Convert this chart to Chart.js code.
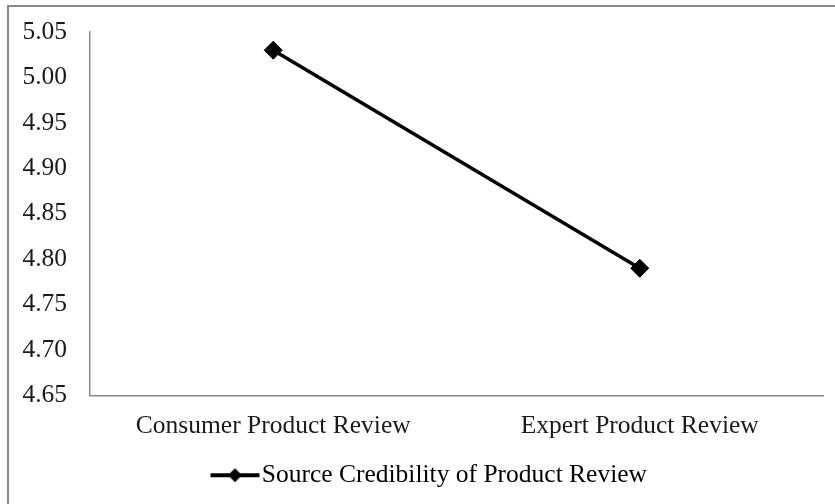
<!DOCTYPE html>
<html>
<head>
<meta charset="utf-8">
<script src="https://cdn.jsdelivr.net/npm/chart.js@4"></script>
<style>
  html, body { margin: 0; padding: 0; background: #fff; }
  #wrap { position: relative; width: 835px; height: 504px; overflow: hidden; }
  #frame { position: absolute; left: 7px; top: 5px; width: 900px; height: 600px; border: 2px solid #8a8a8a; }
  #chartCanvas { position: absolute; left: 0; top: 0; }
</style>
</head>
<body>
<div id="wrap">
  <div id="frame"></div>
  <canvas id="chartCanvas" width="835" height="504"></canvas>
</div>
<script>
// --- data ---
const categories = ["Consumer Product Review", "Expert Product Review"];
const seriesName = "Source Credibility of Product Review";
const credibility = [5.03, 4.79];
const yTicks = [4.65, 4.70, 4.75, 4.80, 4.85, 4.90, 4.95, 5.00, 5.05];

const canvas = document.getElementById("chartCanvas");
const FONT = "'Liberation Serif', 'Times New Roman', serif";
const SIZE = 25.5;
const INK = "#1a1a1a";

// legend symbol: short line with a diamond on it (left part left blank to shift it)
function legendSymbol() {
  const c = document.createElement("canvas");
  c.width = 100; c.height = 20;
  const g = c.getContext("2d");
  g.strokeStyle = "#000";
  g.lineWidth = 4;
  g.beginPath(); g.moveTo(40, 10); g.lineTo(89, 10); g.stroke();
  g.fillStyle = "#000";
  g.beginPath(); g.moveTo(64.5, 3); g.lineTo(71.5, 10); g.lineTo(64.5, 17); g.lineTo(57.5, 10); g.closePath(); g.fill();
  return c;
}
const symbol = legendSymbol();

new Chart(canvas, {
  type: "line",
  data: {
    labels: categories,
    datasets: [{
      label: seriesName,
      data: credibility,
      borderColor: "#000",
      backgroundColor: "#000",
      borderWidth: 3.5,
      pointStyle: "rectRot",
      pointRadius: 9,
      pointBorderWidth: 1,
      pointBackgroundColor: "#000",
      pointBorderColor: "#000",
      tension: 0
    }]
  },
  options: {
    responsive: false,
    animation: false,
    layout: { padding: { left: 16, right: 12, top: 32, bottom: 6 } },
    plugins: {
      tooltip: { enabled: false },
      legend: {
        position: "bottom",
        labels: {
          usePointStyle: true,
          pointStyleWidth: 57,
          color: INK,
          font: { family: FONT, size: SIZE },
          padding: 10,
          generateLabels: () => [{
            text: seriesName,
            pointStyle: symbol,
            fillStyle: "#000",
            strokeStyle: "#000",
            lineWidth: 0,
            datasetIndex: 0
          }]
        }
      }
    },
    scales: {
      x: {
        offset: true,
        grid: { display: false },
        border: { display: true, color: "#8a8a8a", width: 1.5 },
        ticks: { color: INK, font: { family: FONT, size: SIZE }, padding: 7, maxRotation: 0 },
        afterFit: (s) => { s.height = 57; }
      },
      y: {
        min: 4.65,
        max: 5.05,
        afterBuildTicks: (s) => { s.ticks = yTicks.map(v => ({ value: v })); },
        grid: { display: false },
        border: { display: true, color: "#8a8a8a", width: 1.5 },
        ticks: {
          color: INK,
          font: { family: FONT, size: SIZE },
          padding: 15,
          callback: (v) => Number(v).toFixed(2)
        },
        afterFit: (s) => { s.width = 74; }
      }
    }
  }
});
</script>
</body>
</html>
